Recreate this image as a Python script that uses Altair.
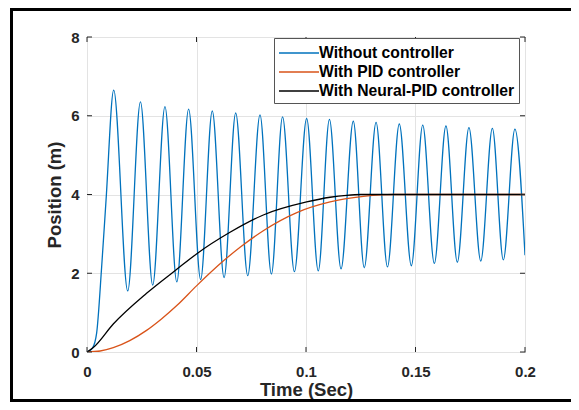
import altair as alt
import pandas as pd

# ---- data ----
x_ticks = [0, 0.05, 0.1, 0.15, 0.2]
y_ticks = [0, 2, 4, 6, 8]
series_names = ["Without controller", "With PID controller", "With Neural-PID controller"]
series_colors = ["#0072BD", "#D95319", "#000000"]

t_without = [0, 0.0025, 0.0044, 0.0067, 0.0087, 0.0122, 0.0186, 0.0244, 0.0300, 0.0356,
             0.0410, 0.0464, 0.0519, 0.0572, 0.0626, 0.0679, 0.0734, 0.0790, 0.0842, 0.0893,
             0.0947, 0.1003, 0.1056, 0.1107, 0.1160, 0.1216, 0.1266, 0.1320, 0.1372, 0.1426,
             0.1481, 0.1533, 0.1586, 0.1639, 0.1691, 0.1744, 0.1798, 0.1851, 0.1901, 0.1954, 0.2000]
y_without = [0, 0.1, 0.48, 2.17, 3.86, 6.65, 1.55, 6.35, 1.70, 6.23,
             1.78, 6.17, 1.84, 6.12, 1.89, 6.07, 1.94, 6.02, 1.98, 5.97,
             2.04, 5.93, 2.06, 5.91, 2.11, 5.86, 2.14, 5.83, 2.16, 5.79,
             2.19, 5.76, 2.25, 5.74, 2.28, 5.70, 2.31, 5.68, 2.34, 5.66, 2.46]

t_pid = [0, 0.006, 0.012, 0.0195, 0.0272, 0.034, 0.041, 0.05, 0.0622, 0.0699, 0.0805,
         0.0958, 0.111, 0.1262, 0.134, 0.14, 0.2]
y_pid = [0, 0.025, 0.11, 0.29, 0.55, 0.84, 1.18, 1.68, 2.31, 2.66, 3.08,
         3.54, 3.81, 3.95, 3.99, 4.0, 4.0]

t_neural = [0, 0.003, 0.012, 0.0272, 0.041, 0.05, 0.0653, 0.0805, 0.1003, 0.111, 0.1186, 0.125, 0.2]
y_neural = [0, 0.12, 0.71, 1.49, 2.10, 2.49, 3.04, 3.48, 3.81, 3.93, 3.98, 4.0, 4.0]

rows = []
for name, ts, ys in zip(series_names, [t_without, t_pid, t_neural], [y_without, y_pid, y_neural]):
    for i, (t, v) in enumerate(zip(ts, ys)):
        rows.append({"series": name, "t": t, "pos": v, "i": i})
df = pd.DataFrame(rows)

W, H = 438, 315
FONT = "Liberation Sans"
TXT = "#262626"

xscale = alt.Scale(domain=[0, 0.2], nice=False, zero=False)
yscale = alt.Scale(domain=[0, 8], nice=False)

x_axis = alt.Axis(values=x_ticks, format="~g", grid=True, ticks=False, tickSize=0, domain=False,
                  labelFont=FONT, labelFontSize=15, labelFontWeight="bold", labelColor=TXT,
                  labelPadding=12, titleFont=FONT, titleFontSize=18.5, titleFontWeight="bold",
                  titleColor=TXT, titlePadding=1, gridColor="#e3e3e3", labelFlush=False)
y_axis = alt.Axis(values=y_ticks, grid=True, ticks=False, tickSize=0, domain=False,
                  labelFont=FONT, labelFontSize=15, labelFontWeight="bold", labelColor=TXT,
                  labelPadding=8, titleFont=FONT, titleFontSize=18.5, titleFontWeight="bold",
                  titleColor=TXT, titlePadding=6, gridColor="#e3e3e3", labelFlush=False)

color = alt.Color(
    "series:N",
    scale=alt.Scale(domain=series_names, range=series_colors),
    legend=alt.Legend(title=None, orient="none", legendX=187, legendY=1, direction="vertical",
                      symbolType="M-2,0L2,0", symbolSize=400, symbolStrokeWidth=1.5,
                      symbolOffset=10, labelOffset=9,
                      labelFont=FONT, labelFontSize=15.7, labelFontWeight="bold", labelColor="black",
                      padding=4, rowPadding=0, fillColor="white",
                      strokeColor="#555555", labelLimit=400),
)


def line_layer(name):
    return alt.Chart(df).transform_filter(alt.datum.series == name).mark_line(
        interpolate="monotone", strokeWidth=1.3, clip=True
    ).encode(
        x=alt.X("t:Q", scale=xscale, axis=x_axis, title="Time (Sec)"),
        y=alt.Y("pos:Q", scale=yscale, axis=y_axis, title="Position (m)"),
        color=color,
        order="i:Q",
    )


xt = pd.DataFrame({"t": x_ticks})
yt = pd.DataFrame({"pos": y_ticks})
TICK = 5
tick_style = dict(color=TXT, strokeWidth=1)

xt_bottom = alt.Chart(xt).mark_rule(**tick_style).encode(
    x=alt.X("t:Q", scale=xscale, title="Time (Sec)"), y=alt.value(H), y2=alt.value(H - TICK))
xt_top = alt.Chart(xt).mark_rule(**tick_style).encode(
    x=alt.X("t:Q", scale=xscale, title="Time (Sec)"), y=alt.value(0), y2=alt.value(TICK))
yt_left = alt.Chart(yt).mark_rule(**tick_style).encode(
    y=alt.Y("pos:Q", scale=yscale, title="Position (m)"), x=alt.value(0), x2=alt.value(TICK))
yt_right = alt.Chart(yt).mark_rule(**tick_style).encode(
    y=alt.Y("pos:Q", scale=yscale, title="Position (m)"), x=alt.value(W), x2=alt.value(W - TICK))

# outer picture frame (page border), right side runs off the picture
border = alt.Chart(pd.DataFrame({"a": [0]})).mark_rect(
    fillOpacity=0, stroke="black", strokeWidth=3
).encode(x=alt.value(-75.5), x2=alt.value(520), y=alt.value(-27.5), y2=alt.value(363.5))

chart = alt.layer(
    border,
    line_layer(series_names[0]),
    line_layer(series_names[1]),
    line_layer(series_names[2]),
    xt_bottom, xt_top, yt_left, yt_right,
).properties(
    width=W, height=H,
    autosize=alt.AutoSizeParams(type="none"),
    padding={"left": 79, "top": 29, "right": 46, "bottom": 50},
    background="white",
).configure_view(stroke=TXT, strokeWidth=1)

chart.save("out.html", embed_options={"renderer": "svg", "actions": False})
